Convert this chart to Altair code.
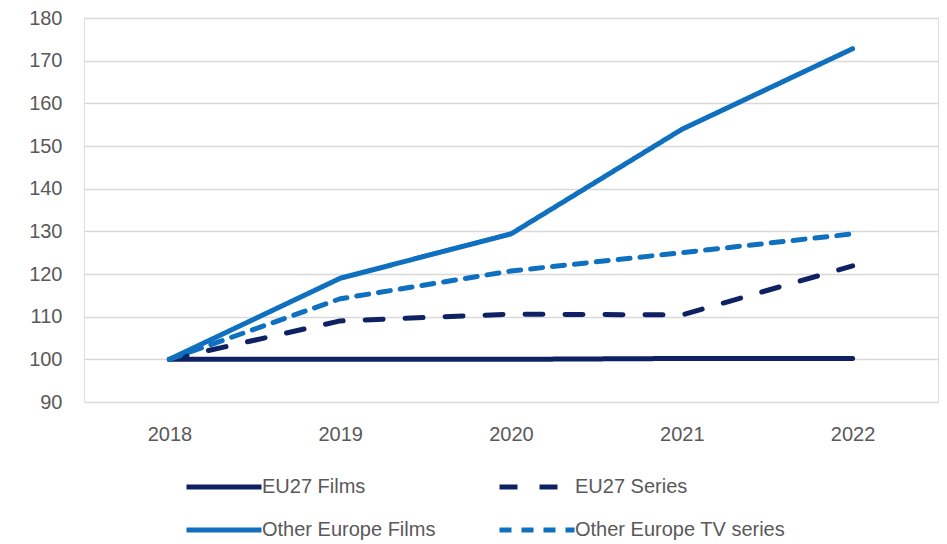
import altair as alt
import pandas as pd

years = ["2018", "2019", "2020", "2021", "2022"]
series_names = ["EU27 Films", "EU27 Series", "Other Europe Films", "Other Europe TV series"]
eu27_films = [100, 100, 100, 100.2, 100.2]
eu27_series = [100, 109, 110.6, 110.4, 121.9]
other_films = [100, 119, 129.4, 153.9, 172.8]
other_tv = [100, 114.2, 120.7, 125.0, 129.4]

colors = ["#0E2263", "#0E2263", "#0F70BF", "#0F70BF"]
dashes = [[1, 0], [18, 22], [1, 0], [12, 10]]

rows = []
for name, vals in zip(series_names, [eu27_films, eu27_series, other_films, other_tv]):
    for y, v in zip(years, vals):
        rows.append({"year": y, "value": v, "series": name})
df = pd.DataFrame(rows)

FONT = "Liberation Sans"
GRAY = "#595959"

legend = alt.Legend(title=None, orient="none", legendX=100, legendY=459,
                    direction="horizontal", columns=2, columnPadding=53, rowPadding=23,
                    symbolType="M-1,0L9,0", symbolSize=225, symbolStrokeWidth=5,
                    labelFont=FONT, labelFontSize=20, labelColor=GRAY,
                    labelOffset=58, labelLimit=0)

chart = alt.Chart(df).mark_line(strokeWidth=5, strokeCap="round", strokeJoin="round").encode(
    x=alt.X("year:N", sort=years, title=None,
            scale=alt.Scale(padding=0.5),
            axis=alt.Axis(labelAngle=0, domain=False, ticks=False, grid=False,
                          labelFont=FONT, labelFontSize=20, labelColor=GRAY, labelPadding=22)),
    y=alt.Y("value:Q", title=None,
            scale=alt.Scale(domain=[90, 180], nice=False, zero=False),
            axis=alt.Axis(values=list(range(90, 181, 10)), domain=False, ticks=False,
                          gridColor="#D9D9D9", gridWidth=1.3,
                          labelFont=FONT, labelFontSize=20, labelColor=GRAY, labelPadding=22)),
    color=alt.Color("series:N", sort=series_names,
                    scale=alt.Scale(domain=series_names, range=colors),
                    legend=legend),
    strokeDash=alt.StrokeDash("series:N", sort=series_names,
                              scale=alt.Scale(domain=series_names, range=dashes),
                              legend=legend),
    order=alt.Order("series:N"),
).properties(
    width=854, height=384,
    autosize=alt.AutoSizeParams(type="none"),
    padding={"left": 84, "top": 18, "right": 9, "bottom": 142},
).configure_view(strokeWidth=0).configure(background="white")

chart.save("out.html", embed_options={"renderer": "svg", "actions": False})
